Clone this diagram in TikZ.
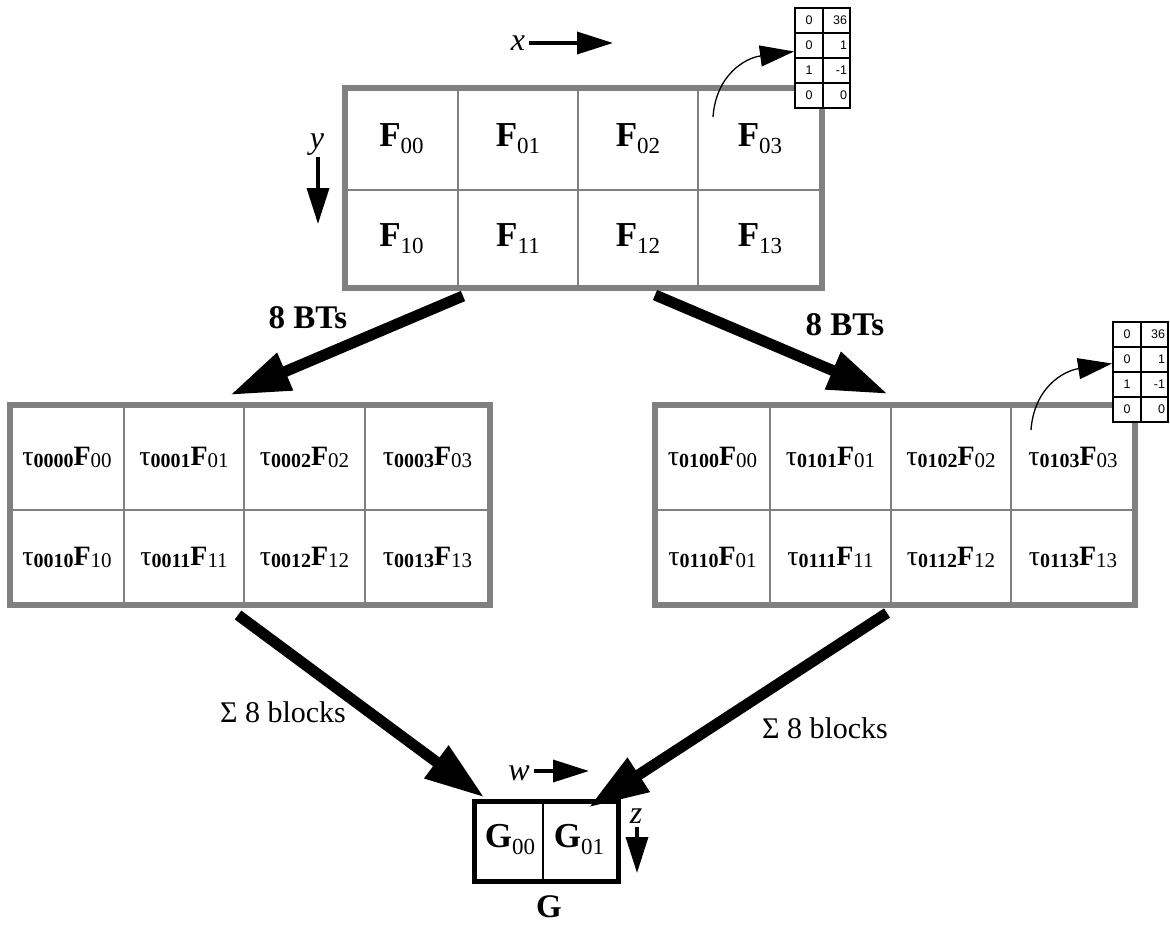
\documentclass[tikz,border=0pt]{standalone}
\usepackage{fontspec}
\setmainfont{Liberation Serif}
\newfontfamily\tabfont{Liberation Sans}
\usetikzlibrary{arrows.meta,calc}

\definecolor{gridgray}{gray}{0.5}

% bold block with lowered index
\newcommand\Blk[2]{\textbf{#1}\raisebox{-7pt}{\fontsize{23}{23}\selectfont #2}}
% tau-weighted block
\newcommand\TauF[2]{τ\raisebox{-2pt}{\fontsize{20}{20}\selectfont\bfseries #1}\textbf{F}\raisebox{-2pt}{\fontsize{21}{21}\selectfont #2}}

\tikzset{
  frame/.style={draw=gridgray, line width=6pt, inner sep=0pt},
  divider/.style={draw=gridgray, line width=2pt},
  bigarrow/.style={line width=11pt, -{Triangle[length=60pt,width=38pt]}},
  axisarrow/.style={line width=3.5pt, -{Triangle[length=36pt,width=22pt]}},
  callout/.style={line width=1.3pt, -{Triangle[length=34pt,width=21pt]}},
  bigtext/.style={font=\fontsize{35}{40}\selectfont, inner sep=0pt},
  tautext/.style={font=\fontsize{28}{32}\selectfont, inner sep=0pt},
  axislabel/.style={font=\fontsize{32}{36}\selectfont\itshape, inner sep=0pt},
  steplabel/.style={font=\fontsize{33}{38}\selectfont\bfseries, inner sep=0pt},
  sumlabel/.style={font=\fontsize{30}{34}\selectfont, inner sep=0pt},
  tcell/.style={draw, fill=white, line width=2pt, minimum height=25pt, inner sep=0pt,
                font=\tabfont\fontsize{12.5}{13}\selectfont},
  tleft/.style={tcell, minimum width=28pt},
  tright/.style={tcell, minimum width=27pt, text width=21pt, align=right},
}

\begin{document}
\begin{tikzpicture}[x=1pt, y=-1pt]
\useasboundingbox (0,0) rectangle (1170,926);

% ---------- input block F ----------
\foreach \c in {458,578,698} \draw[divider] (\c,88) -- (\c,288);
\draw[divider] (345,190) -- (822,190);
\node[frame, minimum width=477pt, minimum height=200pt] (F) at (583.5,188) {};
\node[bigtext] (F00) at (401.5,139) {\Blk{F}{00}};
\node[bigtext] (F01) at (518,139)   {\Blk{F}{01}};
\node[bigtext] (F02) at (638,139)   {\Blk{F}{02}};
\node[bigtext] (F03) at (760,139)   {\Blk{F}{03}};
\node[bigtext] (F10) at (401.5,239) {\Blk{F}{10}};
\node[bigtext] (F11) at (518,239)   {\Blk{F}{11}};
\node[bigtext] (F12) at (638,239)   {\Blk{F}{12}};
\node[bigtext] (F13) at (760,239)   {\Blk{F}{13}};

% axes of F
\node[axislabel] (xl) at (518,43) {x};
\coordinate (xtip) at (613,43);
\draw[axisarrow] ([xshift=4pt]xl.east) -- (xtip);
\node[axislabel] (yl) at (317,145) {y};
\coordinate (ytip) at (318,224);
\draw[axisarrow] (318,157) -- (ytip);

% ---------- left transformed block ----------
\foreach \c in {124,244,365} \draw[divider] (\c,405) -- (\c,605);
\draw[divider] (10,510) -- (490,510);
\node[frame, minimum width=480pt, minimum height=200pt] (L) at (250,505) {};
\node[tautext] (L00) at (67,457.5)    {\TauF{0000}{00}};
\node[tautext] (L01) at (184,457.5)   {\TauF{0001}{01}};
\node[tautext] (L02) at (304.5,457.5) {\TauF{0002}{02}};
\node[tautext] (L03) at (427.5,457.5) {\TauF{0003}{03}};
\node[tautext] (L10) at (67,557.5)    {\TauF{0010}{10}};
\node[tautext] (L11) at (184,557.5)   {\TauF{0011}{11}};
\node[tautext] (L12) at (304.5,557.5) {\TauF{0012}{12}};
\node[tautext] (L13) at (427.5,557.5) {\TauF{0013}{13}};

% ---------- right transformed block ----------
\foreach \c in {770,891,1011} \draw[divider] (\c,405) -- (\c,605);
\draw[divider] (655,510) -- (1135,510);
\node[frame, minimum width=480pt, minimum height=200pt] (R) at (895,505) {};
\node[tautext] (R00) at (712.5,457.5) {\TauF{0100}{00}};
\node[tautext] (R01) at (830.5,457.5) {\TauF{0101}{01}};
\node[tautext] (R02) at (951,457.5)   {\TauF{0102}{02}};
\node[tautext] (R03) at (1073,457.5)  {\TauF{0103}{03}};
\node[tautext] (R10) at (712.5,557.5) {\TauF{0110}{01}};
\node[tautext] (R11) at (830.5,557.5) {\TauF{0111}{11}};
\node[tautext] (R12) at (951,557.5)   {\TauF{0112}{12}};
\node[tautext] (R13) at (1073,557.5)  {\TauF{0113}{13}};

% ---------- result block G ----------
\node[draw, line width=5pt, minimum width=144pt, minimum height=80pt, inner sep=0pt] (G) at (546,841) {};
\draw[line width=1.5pt] (G.north) ++(-3pt,0) coordinate (gd) -- (gd |- G.south);
\node[bigtext] (G00) at (510,840) {\Blk{G}{00}};
\node[bigtext] (G01) at (579,840) {\Blk{G}{01}};
\node[font=\fontsize{33}{38}\selectfont\bfseries, inner sep=0pt] (Gname) at (549,907) {G};

% axes of G
\node[axislabel] (wl) at (519,773) {w};
\coordinate (wtip) at (589,771);
\draw[axisarrow] ([xshift=4pt]wl.east |- wtip) -- (wtip);
\node[axislabel] (zl) at (636,816) {z};
\coordinate (ztip) at (637,873);
\draw[axisarrow] (637,827) -- (ztip);

% ---------- transform and sum arrows ----------
\draw[bigarrow] ([xshift=-120.5pt,yshift=-5pt]F.south) -- ([xshift=-20pt,yshift=7pt]L.north);
\draw[bigarrow] ([xshift=71.5pt,yshift=-4pt]F.south) -- ([xshift=-7pt,yshift=8pt]R.north);
\draw[bigarrow] ([xshift=-12pt,yshift=-7pt]L.south) -- ([xshift=13pt,yshift=1pt]G.north west);
\draw[bigarrow] ([xshift=-8pt,yshift=-5pt]R.south) -- ([xshift=-32pt,yshift=-9pt]G.north east);

\node[steplabel] (bl) at (308,318) {8 BTs};
\node[steplabel] (br) at (845,325) {8 BTs};
\node[sumlabel] (sl) at (283,712) {Σ 8 blocks};
\node[sumlabel] (sr) at (825,728) {Σ 8 blocks};

% ---------- coefficient tables ----------
\foreach \r/\a/\b [count=\i] in {0/0/36, 1/0/1, 2/1/-1, 3/0/0} {
  \node[tleft]  (tA\i1) at (809,20.5+25*\r)   {\a};
  \node[tright] (tA\i2) at (836.5,20.5+25*\r) {\b};
  \node[tleft]  (tB\i1) at (1127,334.5+25*\r) {\a};
  \node[tright] (tB\i2) at (1154.5,334.5+25*\r) {\b};
}
\coordinate (ca) at (713,117);
\coordinate (cb) at (1031,430);
\draw[callout] (ca) .. controls (716,75) and (745,58) .. ([yshift=-6pt]tA21.west);
\draw[callout] (cb) .. controls (1034,388) and (1063,371) .. ([yshift=-4pt]tB21.west);

\end{tikzpicture}
\end{document}
